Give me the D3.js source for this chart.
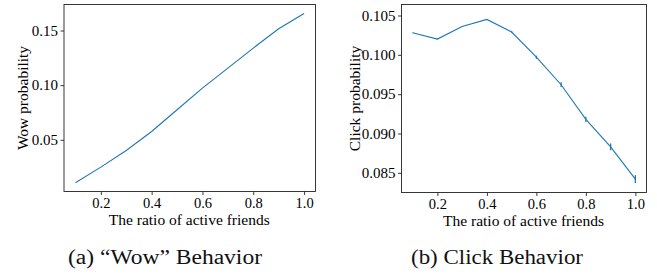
<!DOCTYPE html>
<html>
<head>
<meta charset="utf-8">
<script src="https://cdn.jsdelivr.net/npm/d3@7"></script>
<style>
  body { margin: 0; background: #fff; }
  svg text { font-family: "Liberation Serif", "Times New Roman", serif !important; fill: #000; }
  .axis path, .axis line { stroke: #222; stroke-width: 0.9; }
  .caption { font-size: 20px; fill: #111; }
</style>
</head>
<body>
<div id="chart"></div>
<script>
// data
var ratio = [0.1, 0.2, 0.3, 0.4, 0.5, 0.6, 0.7, 0.8, 0.9, 1.0];
var wowProb = [0.0107, 0.0250, 0.0402, 0.0576, 0.0775, 0.0973, 0.1156, 0.1339, 0.1516, 0.1656];
var clickProb = [0.1028, 0.1020, 0.1036, 0.1045, 0.1029, 0.0997, 0.0962, 0.0918, 0.0883, 0.0842];
var clickErr = [0.00003, 0.00003, 0.00004, 0.00005, 0.0001, 0.0002, 0.0003, 0.00034, 0.00043, 0.0005];
var xTicks = [0.2, 0.4, 0.6, 0.8, 1.0];
var wowTicks = [0.05, 0.10, 0.15];
var clickTicks = [0.085, 0.090, 0.095, 0.100, 0.105];
var xDomain = [0.055, 1.045];
var wowDomain = [0.0027, 0.1738];
var clickDomain = [0.0825, 0.1064];

var svg = d3.select("#chart").append("svg")
    .attr("width", 657)
    .attr("height", 274);

var blue = "#1f77b4";
var serif = "'Liberation Serif', 'Times New Roman', serif";

function panel(opt) {
    var g = svg.append("g");
    var x = d3.scaleLinear().domain(xDomain).range([opt.left, opt.right]);
    var y = d3.scaleLinear().domain(opt.yDomain).range([opt.bottom, opt.top]);

    // x axis
    g.append("g")
        .attr("class", "axis")
        .attr("transform", "translate(0," + opt.bottom + ")")
        .call(d3.axisBottom(x).tickValues(xTicks).tickFormat(d3.format(".1f")).tickSizeOuter(0).tickSize(3.5).tickPadding(2.5))
        .attr("font-family", serif).attr("font-size", 14.5)
        .call(function(a) { a.select(".domain").remove(); });

    // y axis
    g.append("g")
        .attr("class", "axis")
        .attr("transform", "translate(" + opt.left + ",0)")
        .call(d3.axisLeft(y).tickValues(opt.yTicks).tickFormat(d3.format(opt.yFmt)).tickSizeOuter(0).tickSize(3.5).tickPadding(2.5))
        .attr("font-family", serif).attr("font-size", 15)
        .call(function(a) { a.select(".domain").remove(); });

    // frame
    g.append("rect")
        .attr("x", opt.left).attr("y", opt.top)
        .attr("width", opt.right - opt.left).attr("height", opt.bottom - opt.top)
        .attr("fill", "none").attr("stroke", "#222").attr("stroke-width", 0.9);

    var pts = ratio.map(function(r, i) { return [r, opt.values[i]]; });
    g.append("path")
        .datum(pts)
        .attr("fill", "none")
        .attr("stroke", blue)
        .attr("stroke-width", 1.1)
        .attr("d", d3.line().x(function(d) { return x(d[0]); }).y(function(d) { return y(d[1]); }));

    if (opt.errs) {
        g.selectAll(".err")
            .data(pts)
            .enter().append("line")
            .attr("class", "err")
            .attr("x1", function(d) { return x(d[0]); })
            .attr("x2", function(d) { return x(d[0]); })
            .attr("y1", function(d, i) { return y(d[1] - opt.errs[i]); })
            .attr("y2", function(d, i) { return y(d[1] + opt.errs[i]); })
            .attr("stroke", blue)
            .attr("stroke-width", 1.3);
    }

    // labels
    g.append("text")
        .attr("x", (opt.left + opt.right) / 2 - 0.5)
        .attr("y", opt.bottom + 33)
        .attr("text-anchor", "middle")
        .style("font-size", "15.5px")
        .text("The ratio of active friends");

    g.append("text")
        .attr("transform", "translate(" + opt.ylabX + "," + ((opt.top + opt.bottom) / 2) + ") rotate(-90)")
        .attr("text-anchor", "middle")
        .style("font-size", "15.5px")
        .text(opt.ylabel);

    g.append("text")
        .attr("class", "caption")
        .attr("x", opt.capX)
        .attr("y", 264)
        .attr("text-anchor", "middle")
        .attr("textLength", opt.capW)
        .attr("lengthAdjust", "spacingAndGlyphs")
        .text(opt.caption);
}

panel({
    left: 64, right: 315.5, top: 4.5, bottom: 191.5,
    yDomain: wowDomain, yTicks: wowTicks, yFmt: ".2f",
    values: wowProb, ylabel: "Wow probability", ylabX: 28,
    caption: "(a) \u201cWow\u201d Behavior", capX: 165, capW: 194
});

panel({
    left: 401.5, right: 646.5, top: 4.5, bottom: 192.5,
    yDomain: clickDomain, yTicks: clickTicks, yFmt: ".3f",
    values: clickProb, errs: clickErr, ylabel: "Click probability", ylabX: 360,
    caption: "(b) Click Behavior", capX: 497, capW: 172
});
</script>
</body>
</html>
